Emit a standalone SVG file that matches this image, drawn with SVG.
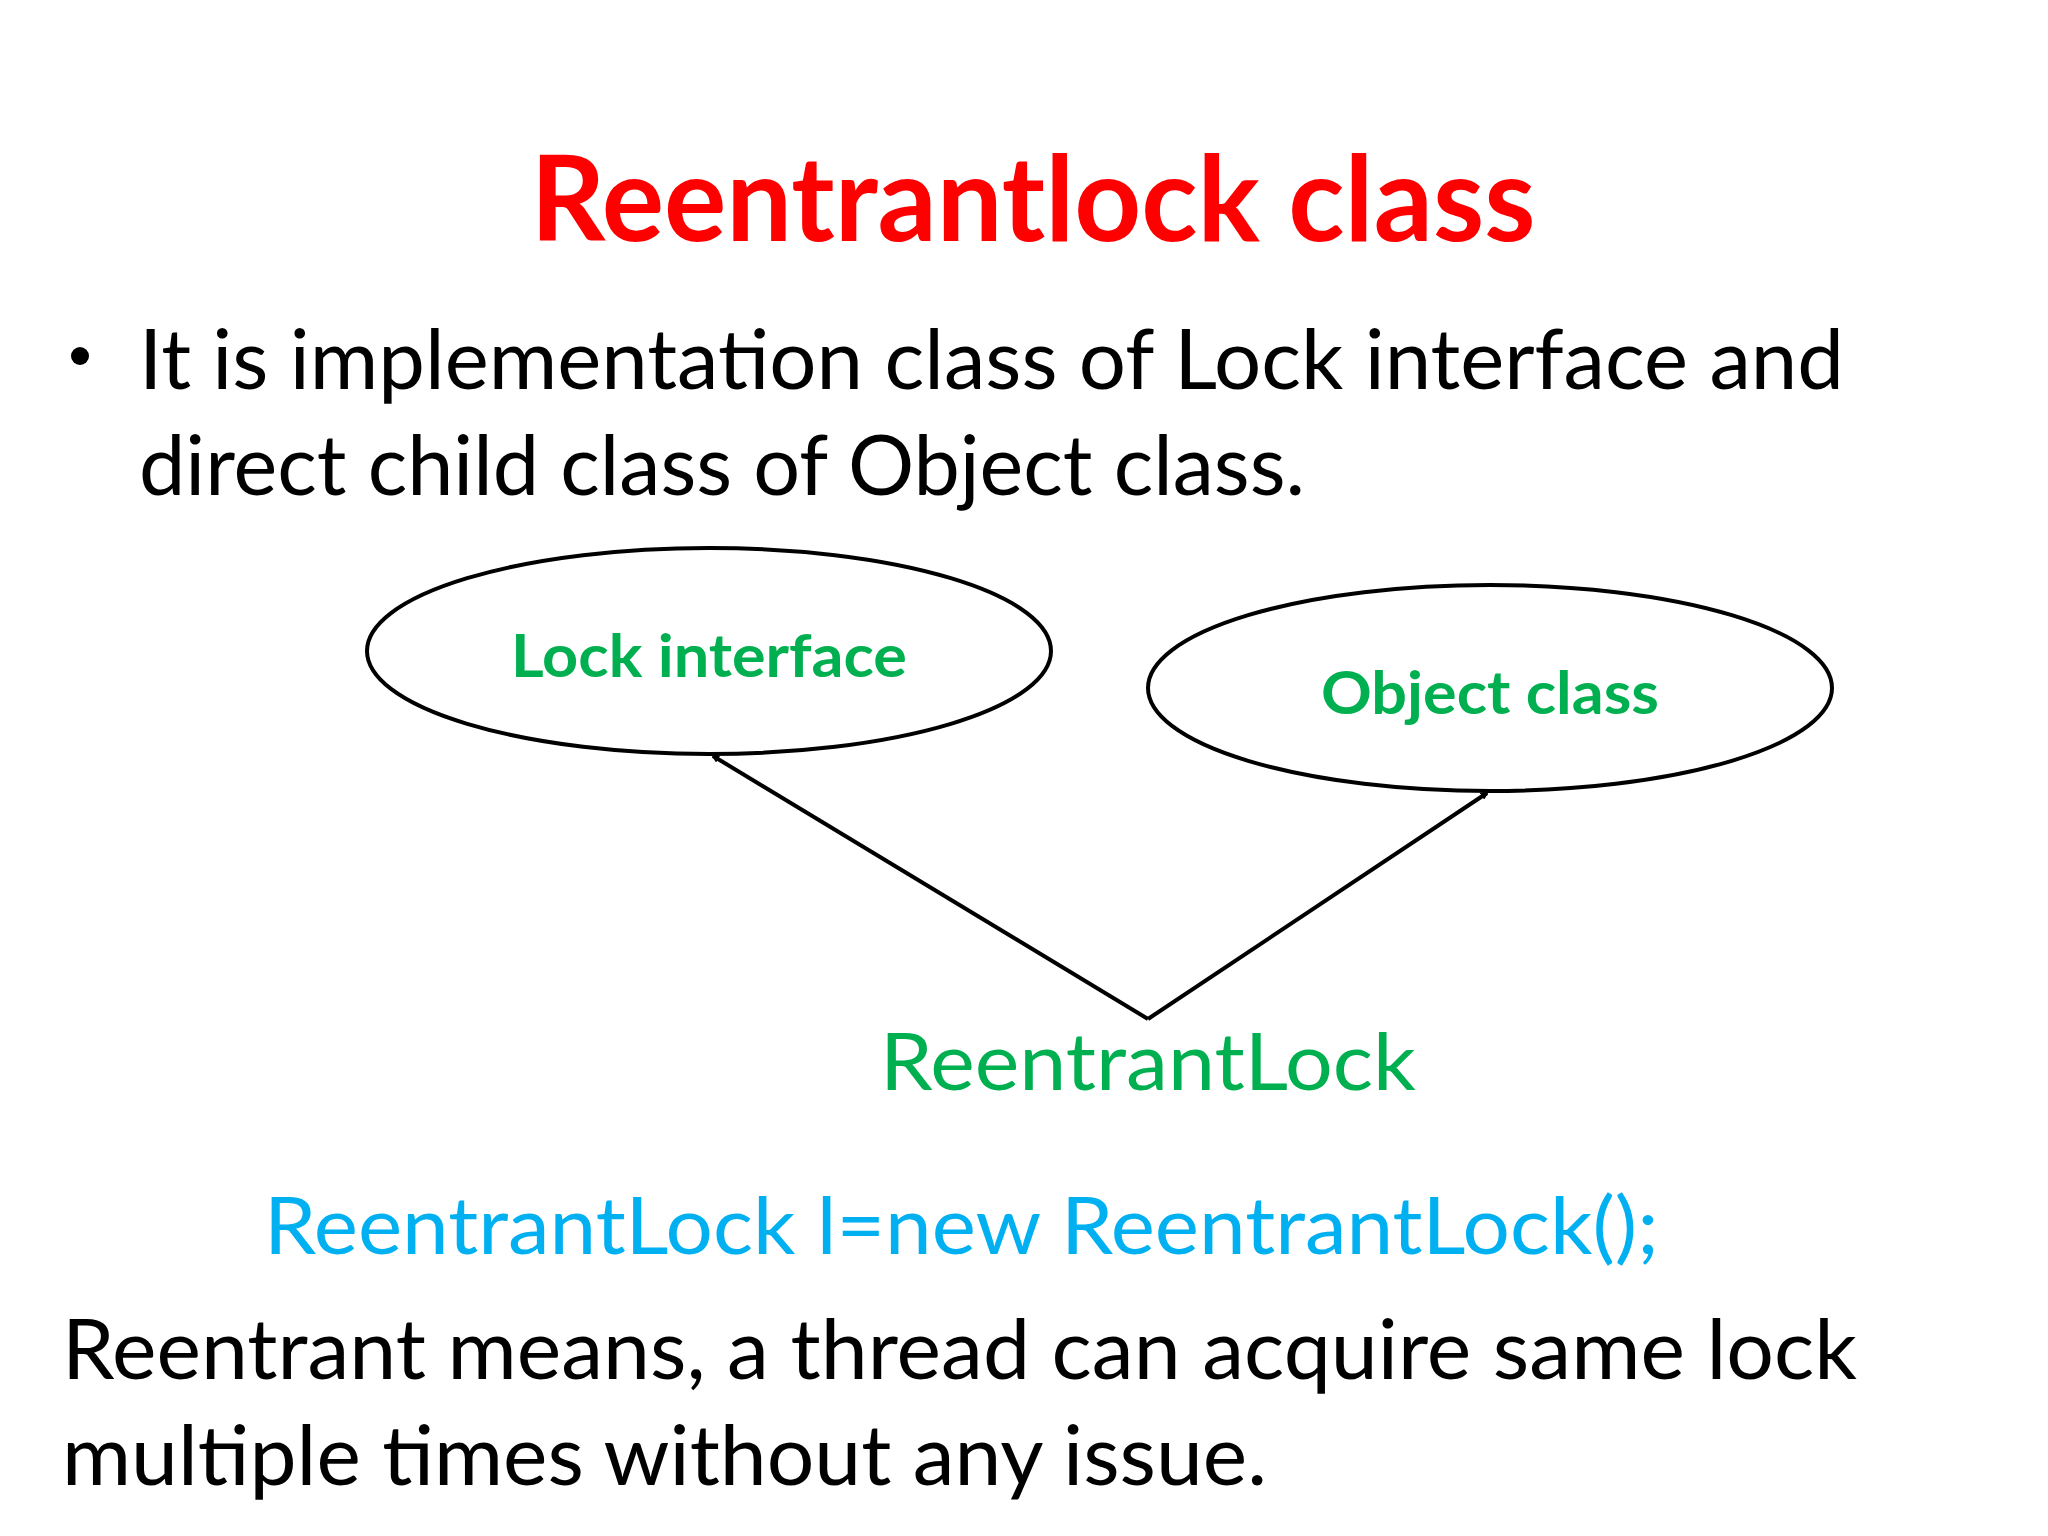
<svg xmlns="http://www.w3.org/2000/svg" width="2048" height="1536" viewBox="0 0 2048 1536">
<style>
text{font-family:Lato,"Open Sans",sans-serif}
.b{fill:#000;font-size:84px}
.g{fill:#00B050}
.e{fill:none;stroke:#000;stroke-width:4}
.c{stroke:#000;stroke-width:4;fill:none;marker-end:url(#a)}
</style>
<defs><marker id="a" markerWidth="8" markerHeight="8" refX="6" refY="4" orient="auto" markerUnits="userSpaceOnUse"><path d="M0,0 L8,4 L0,8 z" fill="#000"/></marker></defs>
<rect width="2048" height="1536" fill="#fff"/>
<text x="1033" y="241" text-anchor="middle" font-weight="bold" font-size="118" fill="#FF0000" textLength="1005" lengthAdjust="spacingAndGlyphs">Reentrantlock class</text>
<circle cx="80" cy="356" r="9" fill="#000"/>
<text class="b" x="139" y="389" textLength="1705" lengthAdjust="spacingAndGlyphs">It is implementation class of Lock interface and</text>
<text class="b" x="139" y="495" textLength="1166" lengthAdjust="spacingAndGlyphs">direct child class of Object class.</text>
<g id="lock"><ellipse class="e" cx="709" cy="651" rx="342" ry="103"/><text class="g" x="709" y="677" text-anchor="middle" font-weight="bold" font-size="60" textLength="396" lengthAdjust="spacingAndGlyphs">Lock interface</text></g>
<g id="object"><ellipse class="e" cx="1490" cy="688" rx="342" ry="103"/><text class="g" x="1490" y="714" text-anchor="middle" font-weight="bold" font-size="60" textLength="338" lengthAdjust="spacingAndGlyphs">Object class</text></g>
<g id="connectors"><path class="c" d="M1148,1019 L713,756"/><path class="c" d="M1148,1019 L1487,793"/></g>
<g id="reentrant"><text class="g" x="1148" y="1090" text-anchor="middle" font-size="80" textLength="536" lengthAdjust="spacingAndGlyphs">ReentrantLock</text></g>
<text x="264" y="1254" font-size="80" fill="#00B0F0" textLength="1395" lengthAdjust="spacingAndGlyphs">ReentrantLock l=new ReentrantLock();</text>
<text class="b" x="62" y="1379" textLength="1795" lengthAdjust="spacingAndGlyphs">Reentrant means, a thread can acquire same lock</text>
<text class="b" x="62" y="1485" textLength="1205" lengthAdjust="spacingAndGlyphs">multiple times without any issue.</text>
</svg>
